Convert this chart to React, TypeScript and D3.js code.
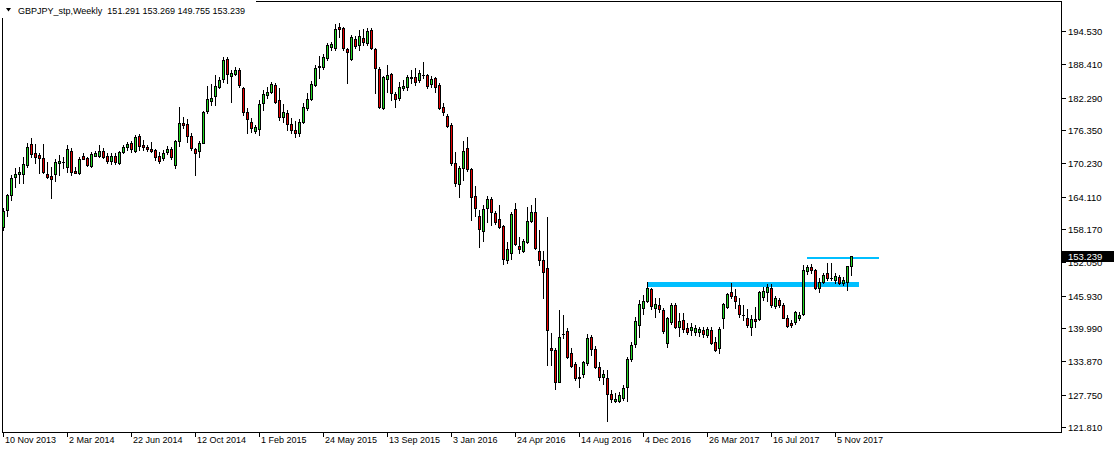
import React from "react";
import * as d3 from "d3";

const symbolTitle = "GBPJPY_stp,Weekly";
const lastQuote = "151.291 153.269 149.755 153.239";
const firstWeek = "2013-11-10";

const open = [
158.53,161.66,164.41,167.77,168.21,168.27,169.92,173.78,172.07,171.76,
171.15,168.27,167.90,168.21,170.34,170.49,169.61,172.49,168.87,168.39,
171.57,171.15,169.79,171.63,171.63,172.49,171.57,170.71,171.63,170.23,
172.25,173.17,173.90,172.55,175.24,173.59,173.28,172.80,172.67,171.57,
171.15,172.31,172.80,169.92,174.38,177.58,177.39,175.24,172.80,172.55,
174.01,179.89,181.73,182.59,184.30,185.66,189.39,186.32,186.63,187.37,
184.00,179.60,177.82,176.22,176.47,181.25,182.72,183.27,184.61,181.86,
178.79,179.41,177.39,176.35,175.80,177.87,180.33,182.04,184.61,187.86,
187.97,189.62,191.53,191.46,195.21,195.02,191.22,189.39,193.06,191.96,
193.19,192.27,194.71,191.22,187.50,180.33,185.71,186.58,182.96,182.17,
184.00,184.18,186.14,186.14,185.53,186.40,186.45,184.74,185.90,184.61,
180.51,178.92,177.26,170.23,166.38,169.31,172.99,169.13,164.23,160.55,
157.85,161.97,163.73,161.16,159.95,158.72,152.47,153.70,161.84,155.04,
154.18,155.83,159.69,161.23,154.13,152.47,151.00,136.37,135.95,130.12,
138.97,139.43,135.34,133.32,131.04,131.54,133.62,138.28,136.13,132.77,
130.93,130.75,127.87,126.60,126.64,127.07,129.21,134.24,136.99,140.48,
143.60,145.00,147.15,143.60,144.21,143.29,137.17,141.03,144.21,140.22,
141.45,139.93,139.62,139.31,139.31,139.62,138.70,139.62,137.47,136.26,
141.77,143.79,146.54,145.86,144.21,142.40,141.77,140.11,141.58,141.58,
145.62,146.54,147.39,144.08,145.13,144.21,141.77,140.96,141.03,141.88,
142.50,150.51,151.13,150.64,147.39,148.49,150.03,149.15,148.80,149.30,
148.19,148.49,151.291
];
const high = [
162.02,164.60,168.08,169.31,169.61,171.33,173.90,174.82,173.78,172.07,
173.78,170.53,169.61,170.97,171.76,171.33,173.59,172.99,169.61,171.33,
172.18,171.44,172.36,172.55,173.59,172.99,172.18,172.18,172.07,172.55,
173.59,174.20,174.38,175.43,175.61,174.51,173.59,174.20,172.90,172.36,
172.67,173.40,173.20,174.51,180.57,178.68,178.31,175.74,173.10,174.30,
179.89,184.43,184.79,186.45,186.03,189.70,189.81,187.37,187.86,187.68,
184.30,180.33,178.50,177.20,181.86,183.69,184.30,185.22,184.92,184.00,
181.07,180.02,178.55,178.00,178.37,181.25,183.09,185.35,188.28,190.00,
190.25,192.27,192.51,195.76,195.94,195.26,191.41,193.79,193.66,194.71,
194.89,195.13,195.13,191.41,187.92,186.27,188.28,186.90,183.30,185.22,
185.53,186.45,187.37,187.68,187.37,188.89,186.58,186.27,186.17,184.98,
181.25,179.29,177.58,172.36,169.74,174.33,175.12,169.37,166.06,161.66,
162.57,164.23,164.10,161.47,162.57,158.90,155.83,161.29,162.89,156.75,
156.33,162.26,162.57,163.80,157.98,154.18,160.32,139.01,136.30,143.29,
142.37,139.93,136.26,133.80,132.88,133.98,138.88,138.70,136.68,133.80,
132.27,132.27,128.60,128.00,128.29,129.52,134.72,137.47,142.06,145.13,
146.05,148.49,147.33,145.44,145.44,143.60,142.06,144.63,144.63,142.80,
142.69,140.85,140.85,140.54,140.22,140.22,140.22,140.11,138.39,140.22,
144.63,146.36,148.31,147.09,145.44,144.21,143.42,142.37,143.90,146.78,
147.57,148.01,148.01,145.92,145.55,144.52,142.37,141.45,143.11,142.98,
151.56,151.56,151.68,150.82,149.17,150.03,151.87,151.87,150.03,149.72,
149.41,151.40,153.269
];
const low = [
157.98,160.55,163.49,165.93,166.56,166.56,169.61,171.44,170.23,168.39,
168.39,167.60,163.80,167.04,168.08,169.31,168.69,168.08,168.39,168.30,
170.97,169.74,169.61,171.57,171.44,171.15,170.23,170.10,170.10,170.04,
172.07,172.67,172.36,172.36,172.67,172.67,172.55,172.36,170.84,170.34,
170.84,171.90,171.00,169.31,173.50,176.66,174.20,172.67,168.08,171.44,
173.90,179.52,180.94,180.94,184.01,185.22,184.92,181.54,186.45,184.30,
179.10,175.74,176.04,175.80,175.43,180.02,182.17,183.09,181.36,178.18,
177.87,176.35,175.80,175.06,175.24,177.63,180.02,181.86,184.43,185.95,
187.55,189.20,191.04,191.04,193.48,191.04,184.92,189.20,191.41,191.04,
191.96,191.96,191.22,183.09,180.33,180.15,183.38,181.86,180.63,181.86,
183.69,183.69,184.92,184.61,185.22,185.84,184.11,184.24,183.38,180.15,
179.10,176.95,169.92,166.06,163.99,167.16,168.87,159.82,160.55,154.80,
156.02,159.51,158.90,159.09,158.29,151.69,151.98,152.60,155.23,153.70,
153.99,155.54,159.51,154.49,151.56,145.44,133.19,133.19,128.73,130.07,
138.09,134.48,132.77,130.44,129.09,131.04,133.19,135.03,132.60,130.44,
129.70,122.96,126.45,126.40,126.40,126.77,126.64,133.98,136.55,138.39,
142.50,144.82,143.42,142.06,142.98,139.01,136.44,140.80,140.04,138.52,
139.31,138.88,138.70,138.70,138.52,138.39,138.39,137.05,135.82,135.45,
139.93,143.66,145.44,143.60,142.06,141.45,140.22,138.70,140.22,141.45,
145.13,144.94,143.90,143.60,143.90,141.77,140.22,140.22,140.66,141.45,
142.37,149.85,150.09,147.15,146.65,148.19,148.80,148.80,148.19,148.00,
147.88,146.96,149.755
];
const close = [
161.47,164.41,167.48,168.27,168.69,170.10,173.17,171.94,171.44,171.15,
168.69,167.77,167.40,170.47,170.65,170.45,172.80,168.69,168.50,171.02,
171.08,169.92,171.99,172.18,172.49,171.44,170.71,171.57,170.53,172.36,
173.17,173.78,172.80,175.12,173.41,173.17,172.80,172.55,171.33,170.71,
172.18,172.95,171.44,174.38,177.58,177.30,175.30,172.99,172.07,173.90,
179.71,181.98,182.28,184.43,185.53,189.20,186.58,186.87,187.37,184.61,
179.71,178.31,176.66,176.84,181.07,182.90,183.27,184.74,181.54,178.79,
179.60,177.39,176.35,175.80,177.87,180.63,182.04,184.79,187.68,188.10,
189.75,191.96,192.14,194.89,194.84,191.35,190.62,193.48,191.83,193.61,
192.56,194.53,191.35,187.68,180.51,186.14,186.45,183.09,181.98,184.30,
184.43,186.14,185.95,185.22,186.76,186.45,184.48,185.71,184.19,180.44,
179.60,177.08,170.23,166.67,169.31,172.49,169.13,164.10,161.97,158.11,
161.78,163.62,161.34,159.51,158.59,152.60,154.44,160.92,155.36,154.44,
155.96,159.64,161.23,154.62,152.47,150.27,139.62,135.95,130.01,138.28,
138.88,134.71,133.01,130.75,130.75,133.69,138.10,136.07,132.88,130.93,
131.54,127.81,126.89,126.90,127.68,128.91,134.24,136.86,141.33,144.39,
144.94,147.28,144.03,144.39,143.42,139.43,141.77,144.21,140.22,141.27,
139.80,139.31,140.11,139.93,139.75,138.83,139.80,137.29,135.95,139.75,
144.39,146.23,145.92,145.00,142.50,142.35,140.54,141.58,141.33,146.54,
146.78,147.57,144.21,145.55,144.21,141.88,140.41,140.54,142.87,142.37,
150.64,151.13,150.64,147.28,148.49,149.72,149.11,149.08,149.59,148.19,
148.80,151.29,153.239
];

const priceTicks = [194.53, 188.41, 182.29, 176.35, 170.23, 164.11, 158.17, 152.05, 145.93, 139.99, 133.87, 127.75, 121.81];
const dateTicks = ["10 Nov 2013", "2 Mar 2014", "22 Jun 2014", "12 Oct 2014", "1 Feb 2015", "24 May 2015", "13 Sep 2015", "3 Jan 2016", "24 Apr 2016", "14 Aug 2016", "4 Dec 2016", "26 Mar 2017", "16 Jul 2017", "5 Nov 2017"];

// horizontal level lines drawn on the chart
const levelStart = ["2016-12-11", "2017-09-17"];
const levelEnd = ["2017-12-17", "2018-01-21"];
const levelPrice = [147.97, 152.90];
const levelWidth = [5, 2];

const W = 1117;
const H = 451;
const FONT = "'Liberation Sans', Arial, sans-serif";
const UP = "#22D822";
const DOWN = "#E80000";
const LEVEL = "#00BFFF";

export default function App() {
  const parseISO = d3.timeParse("%Y-%m-%d");
  const parseLabel = d3.timeParse("%d %b %Y");
  const w0 = parseISO(firstWeek) as Date;
  const weeks = close.map((_, i) => d3.timeWeek.offset(w0, i));
  const n = weeks.length;

  const frameL = 2, frameR = 1061, frameB = 432;

  const x = d3.scaleTime().domain([weeks[0], weeks[n - 1]]).range([3, 851]);
  const y = d3.scaleLinear().domain([121.81, 194.53]).range([427, 31]);
  const px = (d: Date) => Math.round(x(d));
  const py = (v: number) => Math.round(y(v));

  const candles = weeks.map((d, i) => {
    const c = px(d);
    const yh = py(high[i]);
    const yl = py(low[i]);
    const yo = py(open[i]);
    const yc = py(close[i]);
    const top = Math.min(yo, yc);
    const bot = Math.max(yo, yc);
    const up = close[i] >= open[i];
    return (
      <g key={i}>
        <rect x={c} y={yh} width={1} height={yl - yh + 1} fill="#000" />
        <rect x={c - 1} y={top} width={3} height={bot - top + 1} fill="#000" />
        {bot - top >= 2 && (
          <rect x={c} y={top + 1} width={1} height={bot - top - 1} fill={up ? UP : DOWN} />
        )}
      </g>
    );
  });

  const lastPrice = close[n - 1];
  const yLast = py(lastPrice);

  return (
    <svg width={W} height={H} style={{ position: "absolute", left: 0, top: 0, background: "#fff" }} shapeRendering="crispEdges">
      <rect x={0} y={0} width={W} height={H} fill="#fff" />
      {levelPrice.map((p, k) => {
        const x1 = px(parseISO(levelStart[k]) as Date);
        const x2 = px(parseISO(levelEnd[k]) as Date);
        const yy = y(p);
        return <rect key={k} x={x1} y={Math.round(yy - levelWidth[k] / 2)} width={x2 - x1} height={levelWidth[k]} fill={LEVEL} />;
      })}
      {candles}
      <line x1={frameL + 0.5} y1={1} x2={frameL + 0.5} y2={frameB + 0.5} stroke="#000" />
      <line x1={frameL} y1={frameB + 0.5} x2={frameR + 1} y2={frameB + 0.5} stroke="#000" />
      <line x1={frameR + 0.5} y1={1} x2={frameR + 0.5} y2={frameB + 0.5} stroke="#000" />
      <line x1={frameL} y1={1.5} x2={frameR + 1} y2={1.5} stroke="#000" />
      {priceTicks.map((t, k) => {
        const yy = py(t);
        return (
          <g key={k}>
            <line x1={frameR + 1} x2={frameR + 5} y1={yy + 0.5} y2={yy + 0.5} stroke="#000" />
            <text x={1068} y={yy + 3.5} fontFamily={FONT} fontSize={9.5} fill="#000" shapeRendering="auto">
              {t.toFixed(3)}
            </text>
          </g>
        );
      })}
      <rect x={frameR + 1} y={yLast - 5} width={52} height={11} fill="#000" />
      <text x={1068} y={yLast + 3.5} fontFamily={FONT} fontSize={9.5} fill="#fff">
        {lastPrice.toFixed(3)}
      </text>
      {dateTicks.map((lab, k) => {
        const xx = px(parseLabel(lab) as Date);
        return (
          <g key={k}>
            <line x1={xx + 0.5} x2={xx + 0.5} y1={frameB + 1} y2={frameB + 5} stroke="#000" />
            <text x={xx + 2} y={frameB + 11} fontFamily={FONT} fontSize={9} fill="#000">
              {lab}
            </text>
          </g>
        );
      })}
      <rect x={0} y={0} width={256} height={18} fill="#fff" />
      <path d="M6,8 L11,8 L8.5,11.5 Z" fill="#000" shapeRendering="auto" />
      <text x={18} y={14} fontFamily={FONT} fontSize={9} fill="#000">
        {symbolTitle + "\u00a0\u00a0" + lastQuote}
      </text>
    </svg>
  );
}
